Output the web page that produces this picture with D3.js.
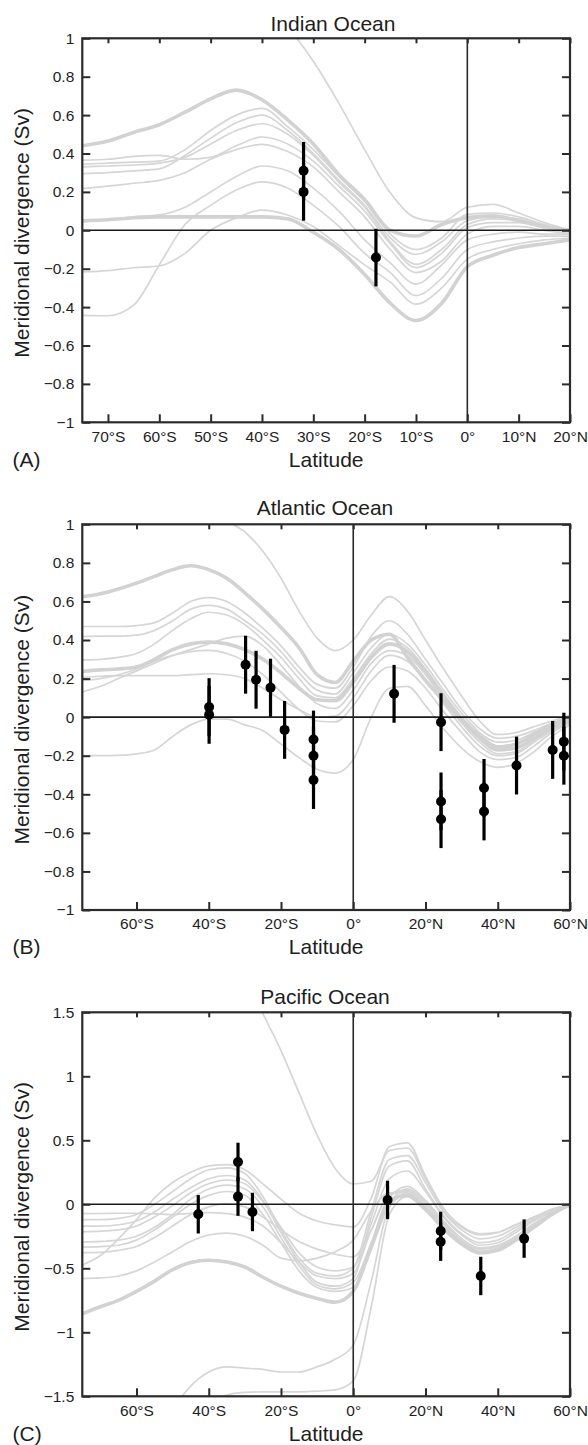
<!DOCTYPE html>
<html><head><meta charset="utf-8">
<script src="https://cdn.jsdelivr.net/npm/d3@7"></script>
<style>
body{margin:0;background:#fff}
svg text{font-family:"Liberation Sans",Arial,Helvetica,sans-serif;fill:#1e1e1e}
</style></head>
<body><svg id="chart" width="588" height="1445"></svg>
<script>
// ---------------- DATA ----------------
const indianLat = [-75,-70,-65,-60,-55,-50,-45,-40,-35,-30,-25,-20,-15,-10,-5,0,5,10,15,20];
const indianModels = [
  [0.44,0.465,0.51,0.55,0.615,0.685,0.73,0.68,0.575,0.45,0.29,0.16,0.0,-0.03,0.03,0.066,0.075,0.05,0.02,0.0],
  [null,null,null,null,null,null,null,1.2,1.06,0.88,0.66,0.42,0.195,0.065,0.045,0.12,0.135,0.09,0.04,0.0],
  [0.365,0.37,0.385,0.39,0.37,0.38,0.44,0.486,0.45,0.36,0.23,0.1,-0.07,-0.194,-0.12,0.014,0.04,0.04,0.01,-0.02],
  [0.344,0.35,0.355,0.36,0.42,0.52,0.60,0.635,0.54,0.42,0.28,0.15,-0.02,-0.10,-0.04,0.083,0.09,0.07,0.03,0.0],
  [0.295,0.30,0.31,0.32,0.39,0.48,0.56,0.60,0.52,0.40,0.26,0.13,-0.04,-0.125,-0.06,0.05,0.07,0.06,0.02,-0.01],
  [0.33,0.335,0.34,0.35,0.38,0.45,0.52,0.555,0.50,0.39,0.25,0.12,-0.06,-0.177,-0.10,0.03,0.06,0.05,0.02,-0.01],
  [0.217,0.23,0.245,0.26,0.30,0.37,0.42,0.448,0.41,0.33,0.20,0.07,-0.10,-0.22,-0.16,-0.02,0.02,0.02,0.0,-0.02],
  [0.045,0.055,0.07,0.08,0.12,0.20,0.28,0.335,0.31,0.22,0.10,-0.05,-0.17,-0.28,-0.18,-0.05,-0.02,-0.01,-0.02,-0.02],
  [0.05,0.055,0.065,0.07,0.07,0.07,0.07,0.07,0.06,-0.01,-0.1,-0.23,-0.38,-0.47,-0.38,-0.19,-0.13,-0.09,-0.07,-0.05],
  [-0.217,-0.21,-0.195,-0.186,-0.12,0.0,0.065,0.105,0.08,0.02,-0.08,-0.18,-0.27,-0.385,-0.30,-0.15,-0.1,-0.07,-0.05,-0.04],
  [-0.443,-0.445,-0.39,-0.18,0.03,0.13,0.21,0.252,0.22,0.13,0.02,-0.12,-0.22,-0.34,-0.25,-0.1,-0.06,-0.04,-0.03,-0.03]
];
const indianObsLat = [-31.9,-31.9,-17.8];
const indianObsVal = [0.31,0.2,-0.142];
const indianObsErr = [0.15,0.15,0.15];
const indianXTicks = [-70,-60,-50,-40,-30,-20,-10,0,10,20];
const indianYTicks = [-1,-0.8,-0.6,-0.4,-0.2,0,0.2,0.4,0.6,0.8,1];

const atlanticLat = [-75,-70,-65,-60,-55,-50,-45,-40,-35,-30,-25,-20,-15,-10,-5,0,5,10,15,20,25,30,35,40,45,50,55,60];
const atlanticModels = [
  [0.624,0.64,0.665,0.695,0.73,0.765,0.785,0.765,0.72,0.645,0.56,0.465,0.36,0.22,0.18,0.29,0.40,0.43,0.31,0.19,0.085,-0.02,-0.1,-0.155,-0.14,-0.09,-0.04,0.0],
  [null,null,null,null,null,null,null,1.1,1.02,0.96,0.86,0.72,0.55,0.41,0.345,0.40,0.53,0.625,0.55,0.40,0.25,0.11,-0.02,-0.09,-0.08,-0.05,-0.02,0.01],
  [0.47,0.47,0.47,0.475,0.49,0.54,0.60,0.62,0.60,0.54,0.46,0.37,0.26,0.17,0.15,0.26,0.42,0.50,0.43,0.30,0.17,0.04,-0.06,-0.11,-0.10,-0.07,-0.03,0.0],
  [0.418,0.42,0.42,0.425,0.45,0.50,0.56,0.58,0.56,0.50,0.43,0.34,0.23,0.14,0.12,0.23,0.36,0.43,0.38,0.27,0.14,0.02,-0.08,-0.13,-0.12,-0.08,-0.04,-0.01],
  [0.297,0.30,0.31,0.33,0.38,0.45,0.51,0.544,0.53,0.48,0.40,0.31,0.20,0.11,0.10,0.20,0.33,0.405,0.36,0.25,0.12,0.0,-0.09,-0.15,-0.14,-0.09,-0.05,-0.01],
  [0.237,0.245,0.25,0.26,0.30,0.35,0.38,0.39,0.38,0.35,0.30,0.23,0.15,0.09,0.085,0.18,0.31,0.38,0.34,0.24,0.11,-0.01,-0.11,-0.17,-0.16,-0.11,-0.06,-0.02],
  [0.207,0.212,0.215,0.215,0.215,0.215,0.22,0.225,0.22,0.20,0.15,0.09,0.04,0.0,0.005,0.10,0.24,0.32,0.29,0.19,0.07,-0.05,-0.15,-0.2,-0.19,-0.13,-0.07,-0.02],
  [0.13,0.16,0.2,0.24,0.28,0.32,0.35,0.38,0.41,0.42,0.37,0.27,0.16,0.07,0.045,0.14,0.28,0.345,0.32,0.22,0.09,-0.03,-0.13,-0.19,-0.18,-0.12,-0.06,-0.02],
  [0.19,0.20,0.22,0.25,0.29,0.32,0.34,0.346,0.33,0.29,0.22,0.13,0.04,-0.02,-0.025,0.06,0.19,0.26,0.24,0.15,0.03,-0.08,-0.18,-0.22,-0.21,-0.15,-0.08,-0.03],
  [-0.2,-0.2,-0.198,-0.19,-0.17,-0.1,-0.04,-0.01,-0.01,-0.04,-0.07,-0.14,-0.21,-0.27,-0.29,-0.22,0.0,0.15,0.16,0.06,-0.06,-0.16,-0.23,-0.26,-0.24,-0.18,-0.1,-0.04]
];
const atlanticObsLat = [-39.9,-39.9,-29.8,-26.9,-22.9,-19.0,-11.0,-11.0,-11.0,11.3,24.3,24.3,24.3,36.2,36.2,45.2,55.2,58.3,58.3];
const atlanticObsVal = [0.052,0.012,0.272,0.194,0.153,-0.066,-0.116,-0.2,-0.326,0.121,-0.026,-0.437,-0.529,-0.367,-0.489,-0.251,-0.17,-0.127,-0.2];
const atlanticObsErr = [0.15,0.15,0.15,0.15,0.15,0.15,0.15,0.15,0.15,0.15,0.15,0.15,0.15,0.15,0.15,0.15,0.15,0.15,0.15];
const atlanticXTicks = [-60,-40,-20,0,20,40,60];
const atlanticYTicks = [-1,-0.8,-0.6,-0.4,-0.2,0,0.2,0.4,0.6,0.8,1];

const pacificLat = [-75,-70,-65,-60,-55,-50,-45,-40,-35,-30,-25,-20,-15,-10,-5,0,5,10,15,20,25,30,35,40,45,50,55,60];
const pacificModels = [
  [-0.855,-0.80,-0.75,-0.68,-0.60,-0.51,-0.455,-0.437,-0.45,-0.49,-0.57,-0.64,-0.695,-0.735,-0.765,-0.68,-0.33,0.03,0.07,-0.04,-0.19,-0.31,-0.38,-0.36,-0.28,-0.18,-0.08,0.0],
  [null,null,null,null,null,null,null,null,null,1.8,1.49,1.2,0.87,0.54,0.28,0.16,0.18,0.42,0.44,0.2,-0.05,-0.18,-0.24,-0.22,-0.16,-0.1,-0.04,0.0],
  [-0.474,-0.40,-0.27,-0.12,0.05,0.17,0.25,0.30,0.31,0.27,0.16,0.04,-0.07,-0.13,-0.16,-0.177,0.05,0.45,0.48,0.22,-0.03,-0.17,-0.23,-0.22,-0.16,-0.1,-0.04,0.0],
  [-0.12,-0.12,-0.11,-0.08,0.0,0.1,0.2,0.27,0.285,0.24,0.06,-0.2,-0.42,-0.54,-0.56,-0.5,-0.05,0.35,0.38,0.17,-0.06,-0.2,-0.27,-0.25,-0.18,-0.11,-0.05,0.0],
  [-0.17,-0.17,-0.16,-0.13,-0.06,0.04,0.13,0.2,0.225,0.19,0.03,-0.22,-0.45,-0.61,-0.64,-0.58,-0.1,0.3,0.34,0.12,-0.09,-0.23,-0.3,-0.28,-0.2,-0.12,-0.05,0.0],
  [-0.216,-0.21,-0.2,-0.17,-0.1,-0.01,0.09,0.16,0.19,0.16,0.02,-0.18,-0.38,-0.49,-0.52,-0.49,-0.15,0.2,0.26,0.1,-0.1,-0.24,-0.32,-0.3,-0.22,-0.13,-0.06,0.0],
  [-0.295,-0.29,-0.28,-0.25,-0.18,-0.08,0.04,0.12,0.15,0.12,-0.02,-0.26,-0.48,-0.63,-0.66,-0.61,-0.3,0.05,0.14,0.03,-0.13,-0.27,-0.35,-0.33,-0.25,-0.15,-0.07,-0.01],
  [-0.334,-0.33,-0.32,-0.28,-0.2,-0.1,0.0,0.07,0.1,0.07,-0.08,-0.3,-0.52,-0.65,-0.68,-0.65,-0.35,0.0,0.12,0.02,-0.14,-0.28,-0.37,-0.35,-0.27,-0.17,-0.08,-0.01],
  [-0.378,-0.375,-0.36,-0.33,-0.26,-0.17,-0.08,-0.02,0.005,-0.02,-0.1,-0.2,-0.29,-0.35,-0.39,-0.41,-0.2,0.08,0.11,0.0,-0.15,-0.29,-0.38,-0.36,-0.28,-0.18,-0.08,-0.01],
  [-0.073,-0.072,-0.07,-0.07,-0.075,-0.08,-0.07,-0.065,-0.073,-0.1,-0.17,-0.3,-0.45,-0.56,-0.58,-0.54,-0.2,0.07,0.1,0.0,-0.14,-0.27,-0.34,-0.32,-0.25,-0.16,-0.07,-0.01],
  [-0.58,-0.575,-0.56,-0.52,-0.45,-0.37,-0.29,-0.24,-0.225,-0.25,-0.32,-0.42,-0.44,-0.42,-0.37,-0.28,-0.05,0.09,0.09,-0.02,-0.16,-0.29,-0.37,-0.35,-0.27,-0.17,-0.08,-0.01],
  [null,null,null,null,null,-1.6,-1.42,-1.31,-1.27,-1.28,-1.29,-1.31,-1.31,-1.27,-1.21,-1.1,-0.6,-0.02,0.08,-0.03,-0.17,-0.29,-0.35,-0.33,-0.26,-0.17,-0.08,0.0],
  [null,null,null,null,null,null,null,-1.56,-1.49,-1.47,-1.465,-1.465,-1.465,-1.46,-1.45,-1.38,-0.8,-0.08,0.06,-0.05,-0.18,-0.3,-0.37,-0.34,-0.27,-0.18,-0.08,0.0]
];
const pacificObsLat = [-42.9,-31.9,-31.9,-27.9,9.5,24.2,24.2,35.3,47.3];
const pacificObsVal = [-0.078,0.331,0.06,-0.06,0.034,-0.208,-0.292,-0.56,-0.268];
const pacificObsErr = [0.15,0.15,0.15,0.15,0.15,0.15,0.15,0.15,0.15];
const pacificXTicks = [-60,-40,-20,0,20,40,60];
const pacificYTicks = [-1.5,-1,-0.5,0,0.5,1,1.5];

// ---------------- LAYOUT / STYLE ----------------
const panels = [
  {title:"Indian Ocean", tag:"(A)", lat:indianLat, models:indianModels, thick:[0,8],
   oLat:indianObsLat, oVal:indianObsVal, oErr:indianObsErr, xt:indianXTicks, yt:indianYTicks,
   xDom:[-75,20], yDom:[-1,1], top:38.3, h:384, titleX:333, titleY:30.5, tickY:20, labY:467},
  {title:"Atlantic Ocean", tag:"(B)", lat:atlanticLat, models:atlanticModels, thick:[0,5],
   oLat:atlanticObsLat, oVal:atlanticObsVal, oErr:atlanticObsErr, xt:atlanticXTicks, yt:atlanticYTicks,
   xDom:[-75,60], yDom:[-1,1], top:524.3, h:385.7, titleX:325, titleY:515, tickY:19, labY:954},
  {title:"Pacific Ocean", tag:"(C)", lat:pacificLat, models:pacificModels, thick:[0],
   oLat:pacificObsLat, oVal:pacificObsVal, oErr:pacificObsErr, xt:pacificXTicks, yt:pacificYTicks,
   xDom:[-75,60], yDom:[-1.5,1.5], top:1012.3, h:384, titleX:325, titleY:1003.5, tickY:20, labY:1441}
];
const L = 82.3, R = 570;
const svg = d3.select("#chart");
const latFmt = v => v < 0 ? `${-v}°S` : (v > 0 ? `${v}°N` : "0°");
const yFmt = d3.format("~g");

panels.forEach((p, pi) => {
  const x = d3.scaleLinear().domain(p.xDom).range([L, R]);
  const y = d3.scaleLinear().domain(p.yDom).range([p.top + p.h, p.top]);
  const B = p.top + p.h;
  const g = svg.append("g");

  g.append("clipPath").attr("id", "clip" + pi).append("rect")
    .attr("x", L).attr("y", p.top).attr("width", R - L).attr("height", p.h);

  const line = d3.line().defined(d => d[1] != null)
    .x(d => x(d[0])).y(d => y(d[1])).curve(d3.curveMonotoneX);

  const curves = g.append("g").attr("clip-path", `url(#clip${pi})`);
  const order = p.models.map((m, i) => i).sort((a, b) => p.thick.includes(a) - p.thick.includes(b));
  order.forEach(i => {
    const pts = p.lat.map((la, k) => [la, p.models[i][k]]);
    curves.append("path").attr("d", line(pts)).attr("fill", "none")
      .attr("stroke", p.thick.includes(i) ? "#d2d2d2" : "#d6d6d6")
      .attr("stroke-width", p.thick.includes(i) ? 3.6 : 1.7)
      .attr("stroke-linejoin", "round");
  });

  // zero lines
  g.append("line").attr("x1", L).attr("x2", R).attr("y1", y(0)).attr("y2", y(0))
    .attr("stroke", "#1a1a1a").attr("stroke-width", 1.6);
  g.append("line").attr("x1", x(0)).attr("x2", x(0)).attr("y1", p.top).attr("y2", B)
    .attr("stroke", "#2a2a2a").attr("stroke-width", 1.6);

  // axes
  const ax = [];
  ax.push(g.append("g").attr("transform", `translate(0,${B})`)
    .call(d3.axisBottom(x).tickValues(p.xt).tickSize(-8).tickPadding(0).tickFormat(latFmt)));
  ax.push(g.append("g").attr("transform", `translate(0,${p.top})`)
    .call(d3.axisTop(x).tickValues(p.xt).tickSize(-5).tickFormat("")));
  ax.push(g.append("g").attr("transform", `translate(${L},0)`)
    .call(d3.axisLeft(y).tickValues(p.yt).tickSize(-8).tickPadding(8).tickFormat(yFmt)));
  ax.push(g.append("g").attr("transform", `translate(${R},0)`)
    .call(d3.axisRight(y).tickValues(p.yt).tickSize(-8).tickFormat("")));
  ax.forEach(a => {
    a.select(".domain").remove();
    a.selectAll(".tick line").attr("stroke", "#2b2b2b").attr("stroke-width", 2);
    a.selectAll("text").attr("fill", "#1e1e1e").attr("font-size", 15.5)
      .attr("font-family", '"Liberation Sans",Arial,sans-serif');
  });
  ax[0].selectAll("text").attr("y", p.tickY).attr("dy", null);

  // frame
  g.append("rect").attr("x", L).attr("y", p.top).attr("width", R - L).attr("height", p.h)
    .attr("fill", "none").attr("stroke", "#2b2b2b").attr("stroke-width", 2.2);

  // observations
  const obs = p.oLat.map((la, k) => ({la, v: p.oVal[k], e: p.oErr[k]}));
  g.selectAll(".eb").data(obs).join("line").attr("class", "eb")
    .attr("x1", d => x(d.la)).attr("x2", d => x(d.la))
    .attr("y1", d => y(d.v + d.e)).attr("y2", d => y(d.v - d.e))
    .attr("stroke", "#000").attr("stroke-width", 3.2);
  g.selectAll(".pt").data(obs).join("circle").attr("class", "pt")
    .attr("cx", d => x(d.la)).attr("cy", d => y(d.v)).attr("r", 5).attr("fill", "#000");

  // texts
  g.append("text").attr("x", p.titleX).attr("y", p.titleY).attr("text-anchor", "middle")
    .attr("font-size", 21).text(p.title);
  g.append("text").attr("x", (L + R) / 2).attr("y", p.labY).attr("text-anchor", "middle")
    .attr("font-size", 21).text("Latitude");
  g.append("text").attr("x", 12.5).attr("y", p.labY).attr("font-size", 21).text(p.tag);
  g.append("text").attr("transform", `translate(28.5,${p.top + p.h / 2 + 2.5}) rotate(-90)`)
    .attr("text-anchor", "middle").attr("font-size", 21).text("Meridional divergence (Sv)");
});
</script>
</body></html>
